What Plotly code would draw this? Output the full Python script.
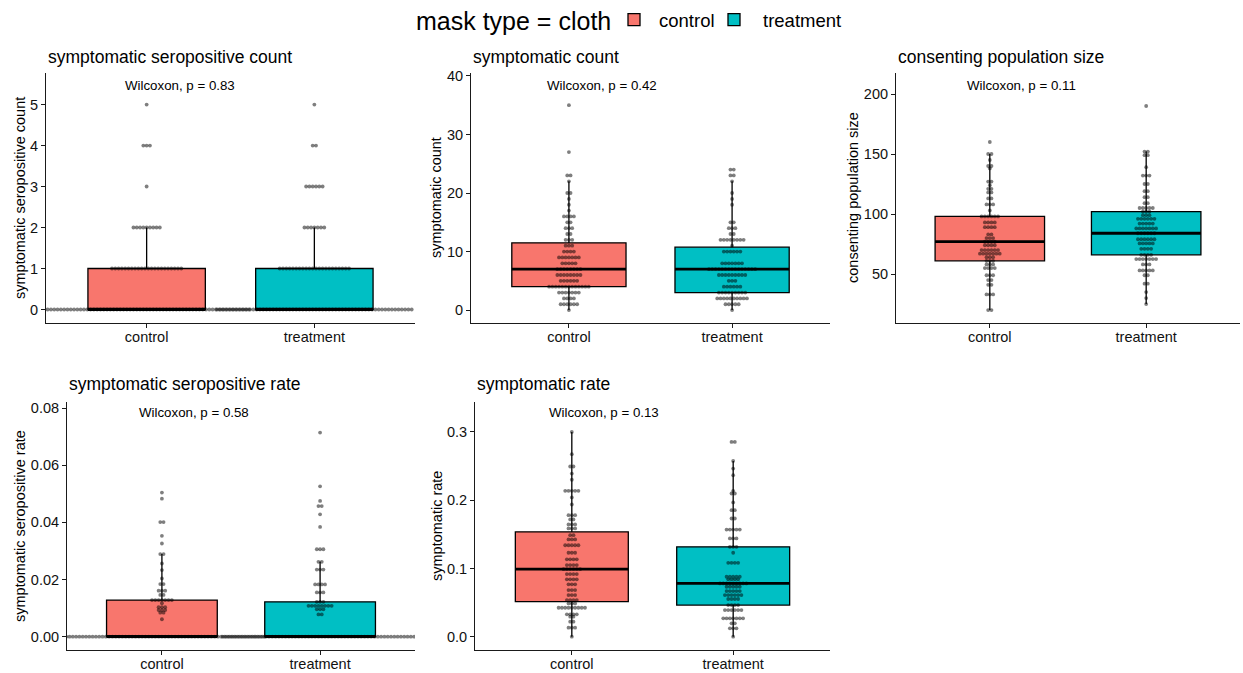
import numpy as np
import plotly.graph_objects as go

# ---------------- data ----------------
categories = ["control", "treatment"]
fill_colors = ["#F8766D", "#00BFC4"]
legend_title = "mask type = cloth"

panel_titles = ["symptomatic seropositive count", "symptomatic count",
                "consenting population size", "symptomatic seropositive rate",
                "symptomatic rate"]
p_values = ["0.83", "0.42", "0.11", "0.58", "0.13"]

# symptomatic seropositive count
sero_count_ctrl_vals = [0, 1, 2, 3, 4, 5]
sero_count_ctrl_n = [63, 22, 9, 1, 3, 1]
sero_count_trt_vals = [0, 1, 2, 3, 4, 5]
sero_count_trt_n = [60, 22, 7, 6, 2, 1]

# symptomatic count
symp_count_ctrl_vals = [0, 1, 2, 3, 4, 5, 6, 7, 8, 9, 10, 11, 12, 13, 14, 15, 16, 17, 18, 19, 20, 22, 23, 27, 35]
symp_count_ctrl_n = [1, 6, 4, 7, 13, 6, 8, 8, 5, 7, 4, 3, 3, 2, 3, 2, 4, 1, 1, 1, 2, 1, 2, 1, 1]
symp_count_trt_vals = [0, 1, 2, 3, 4, 5, 6, 7, 8, 10, 11, 12, 13, 14, 15, 18, 19, 20, 22, 23, 24]
symp_count_trt_n = [1, 5, 10, 9, 6, 3, 9, 15, 7, 6, 1, 8, 2, 3, 2, 1, 1, 1, 1, 2, 2]

# consenting population size
pop_ctrl_vals = [20, 33, 41, 45, 49, 55, 58, 61, 64, 67, 70, 74, 77, 80, 83, 89, 93, 98,
                 103, 108, 113, 118, 121, 124, 127, 138, 140, 145, 150, 160]
pop_ctrl_n = [2, 3, 2, 2, 3, 4, 3, 3, 3, 7, 6, 4, 4, 3, 2, 4, 4, 6,
              1, 3, 2, 2, 2, 1, 2, 1, 2, 1, 2, 1]
pop_trt_vals = [25, 30, 35, 42, 49, 53, 58, 62.5, 66, 71, 75.5, 79, 84, 88, 92, 96, 99,
                102, 105, 109, 114, 119, 125, 132, 139, 149, 152, 190]
pop_trt_n = [1, 1, 1, 2, 2, 5, 3, 7, 4, 4, 5, 6, 6, 7, 5, 6, 3,
             3, 5, 2, 2, 2, 2, 3, 1, 2, 2, 1]

# symptomatic seropositive rate
sero_rate_ctrl_vals = [0.0, 0.0061, 0.0084, 0.0093, 0.0103, 0.0117, 0.0128, 0.0146, 0.0161,
                       0.0184, 0.0204, 0.0233, 0.0256, 0.0289, 0.0326, 0.0353, 0.0401,
                       0.0483, 0.0504]
sero_rate_ctrl_n = [63, 1, 2, 3, 3, 1, 7, 2, 3, 2, 1, 1, 1, 2, 1, 1, 2, 1, 1]
sero_rate_trt_vals = [0.0, 0.0078, 0.0096, 0.0108, 0.0122, 0.0155, 0.0183, 0.0235, 0.0262,
                      0.0306, 0.0384, 0.0428, 0.0457, 0.0475, 0.0526, 0.0714]
sero_rate_trt_n = [60, 2, 3, 8, 3, 3, 4, 3, 2, 3, 1, 1, 2, 1, 1, 1]

# symptomatic rate
symp_rate_ctrl_vals = [0.0, 0.0132, 0.022, 0.0293, 0.0328, 0.0424, 0.0488, 0.0537, 0.061,
                       0.0683, 0.0767, 0.084, 0.0918, 0.099, 0.105, 0.1133, 0.123, 0.134,
                       0.1425, 0.1488, 0.1586, 0.1645, 0.1718, 0.178, 0.1937, 0.204,
                       0.2137, 0.230, 0.239, 0.2494, 0.2674, 0.300]
symp_rate_ctrl_n = [1, 3, 2, 2, 4, 9, 3, 4, 3, 3, 3, 4, 4, 6, 4, 4, 3, 5,
                    3, 2, 3, 3, 2, 3, 1, 1, 5, 1, 1, 2, 1, 1]
symp_rate_trt_vals = [0.0, 0.0123, 0.0196, 0.0269, 0.039, 0.0464, 0.0552, 0.061, 0.0669,
                      0.0732, 0.0781, 0.084, 0.0878, 0.1083, 0.123, 0.1317, 0.144, 0.157,
                      0.1732, 0.1854, 0.1967, 0.2098, 0.2137, 0.2366, 0.2464, 0.2576, 0.2854]
symp_rate_trt_n = [1, 3, 2, 7, 6, 4, 4, 6, 5, 5, 9, 4, 5, 4, 1, 3, 3, 5,
                   2, 2, 1, 2, 1, 1, 1, 1, 2]

panels_data = [
    [(sero_count_ctrl_vals, sero_count_ctrl_n), (sero_count_trt_vals, sero_count_trt_n)],
    [(symp_count_ctrl_vals, symp_count_ctrl_n), (symp_count_trt_vals, symp_count_trt_n)],
    [(pop_ctrl_vals, pop_ctrl_n), (pop_trt_vals, pop_trt_n)],
    [(sero_rate_ctrl_vals, sero_rate_ctrl_n), (sero_rate_trt_vals, sero_rate_trt_n)],
    [(symp_rate_ctrl_vals, symp_rate_ctrl_n), (symp_rate_trt_vals, symp_rate_trt_n)],
]

# ---------------- layout geometry (pixels) ----------------
W, H = 1243, 673
boxes_px = [  # x0, x1, y_top, y_bottom
    (46, 415, 73, 323),
    (471, 830, 73, 323),
    (896, 1240, 73, 323),
    (67, 415, 402, 650),
    (475, 830, 402, 650),
]
ytitle_x_px = [20, 436, 853, 20, 437]
y_ranges = [[-0.33, 5.77], [-2.2, 40.5], [9.2, 217.5], [-0.00465, 0.0821], [-0.0195, 0.3439]]
y_ticks = [[0, 1, 2, 3, 4, 5], [0, 10, 20, 30, 40], [50, 100, 150, 200],
           [0, 0.02, 0.04, 0.06, 0.08], [0, 0.1, 0.2, 0.3]]
y_fmt = ["d", "d", "d", ".2f", ".1f"]
x_range = [-0.6, 1.6]
box_width = 0.7
dot_px = 3.3
FONT = "Liberation Sans, Arial, sans-serif"
AXCOL = "#1a1a1a"

fig = go.Figure()


def expand(vals, counts):
    out = []
    for v, n in zip(vals, counts):
        out += [v] * n
    return out


legend_ids = ["legend", "legend2"]
dot_traces = []
median_traces = []
for k, (pdata, bpx) in enumerate(zip(panels_data, boxes_px)):
    ax = "" if k == 0 else str(k + 1)
    px_per_unit = (bpx[1] - bpx[0]) / (x_range[1] - x_range[0])
    step = dot_px / px_per_unit
    for g, (vals, counts) in enumerate(pdata):
        ys = expand(vals, counts)
        fig.add_trace(go.Box(
            y=ys, x0=g, width=box_width, name=categories[g],
            fillcolor=fill_colors[g], line=dict(color="black", width=1.3),
            whiskerwidth=0, boxpoints="outliers",
            marker=dict(opacity=0, size=1),
            legendgroup=categories[g], showlegend=(k == 0), legend=legend_ids[g],
            xaxis="x" + ax, yaxis="y" + ax, hoverinfo="skip"))
        med = float(np.median(ys))
        median_traces.append(go.Scatter(
            x=[g - box_width / 2, g + box_width / 2], y=[med, med], mode="lines",
            line=dict(color="black", width=2.8), showlegend=False,
            xaxis="x" + ax, yaxis="y" + ax, hoverinfo="skip"))
        xs, yy = [], []
        for v, n in zip(vals, counts):
            for i in range(n):
                xs.append(g + (i - (n - 1) / 2) * step)
                yy.append(v)
        dot_traces.append(go.Scatter(
            x=xs, y=yy, mode="markers",
            marker=dict(size=3.8, color="rgba(0,0,0,0.5)", line=dict(width=0)),
            showlegend=False, xaxis="x" + ax, yaxis="y" + ax, hoverinfo="skip"))

for t in median_traces + dot_traces:
    fig.add_trace(t)

layout = dict(
    width=W, height=H, margin=dict(l=0, r=0, t=0, b=0, autoexpand=False),
    paper_bgcolor="white", plot_bgcolor="white",
    font=dict(family=FONT, color="black"),
    boxmode="overlay",
    legend=dict(orientation="h", x=609 / W, xanchor="left", y=1 - 20 / H, yanchor="middle",
                font=dict(size=18.5, family=FONT), itemwidth=40,
                bgcolor="rgba(0,0,0,0)"),
    legend2=dict(orientation="h", x=705 / W, xanchor="left", y=1 - 20 / H, yanchor="middle",
                 font=dict(size=18.5, family=FONT), itemwidth=48,
                 bgcolor="rgba(0,0,0,0)"),
)

annotations = [dict(
    text=legend_title, xref="paper", yref="paper", x=613 / W, y=1 - 20.5 / H,
    xanchor="right", yanchor="middle", showarrow=False,
    font=dict(size=25, family=FONT, color="black"))]
for k, bpx in enumerate(boxes_px):
    ax = "" if k == 0 else str(k + 1)
    x0, x1, yt, yb = bpx
    layout["xaxis" + ax] = dict(
        domain=[x0 / W, x1 / W], range=x_range, anchor="y" + ax, automargin=False,
        tickvals=[0, 1], ticktext=categories, showline=True, linecolor=AXCOL,
        linewidth=1.1, ticks="outside", ticklen=4, tickcolor=AXCOL, tickwidth=1.1,
        ticklabelstandoff=-3,
        showgrid=False, zeroline=False, tickfont=dict(size=14.5, color="#111"))
    layout["yaxis" + ax] = dict(
        domain=[1 - yb / H, 1 - yt / H], range=y_ranges[k], anchor="x" + ax,
        automargin=False,
        tickvals=y_ticks[k], tickformat=y_fmt[k], showline=True, linecolor=AXCOL,
        linewidth=1.1, ticks="outside", ticklen=4, tickcolor=AXCOL, tickwidth=1.1,
        showgrid=False, zeroline=False, tickfont=dict(size=14.5, color="#111"))
    annotations.append(dict(
        text=panel_titles[k], xref="paper", yref="paper", x=ytitle_x_px[k] / W,
        y=1 - (yt + yb) / 2 / H, textangle=-90, xanchor="center", yanchor="middle",
        showarrow=False, font=dict(size=14.5, family=FONT, color="black")))
    title_y = 56.5 if k < 3 else 384
    annotations.append(dict(
        text=panel_titles[k], xref="paper", yref="paper", x=x0 / W, y=1 - title_y / H,
        xanchor="left", yanchor="middle", showarrow=False,
        font=dict(size=17.5, family=FONT, color="black")))
    wy = 85 if k < 3 else 412.5
    annotations.append(dict(
        text="Wilcoxon, p = " + p_values[k], xref="x" + ax, yref="paper", x=0.2,
        y=1 - wy / H, xanchor="center", yanchor="middle", showarrow=False,
        font=dict(size=13.3, family=FONT, color="black")))

layout["annotations"] = annotations
fig.update_layout(**layout)
fig.write_html("out.html", config={"displayModeBar": False},
               post_script="document.body.style.margin='0px';"
                           "document.body.style.overflow='hidden';")
